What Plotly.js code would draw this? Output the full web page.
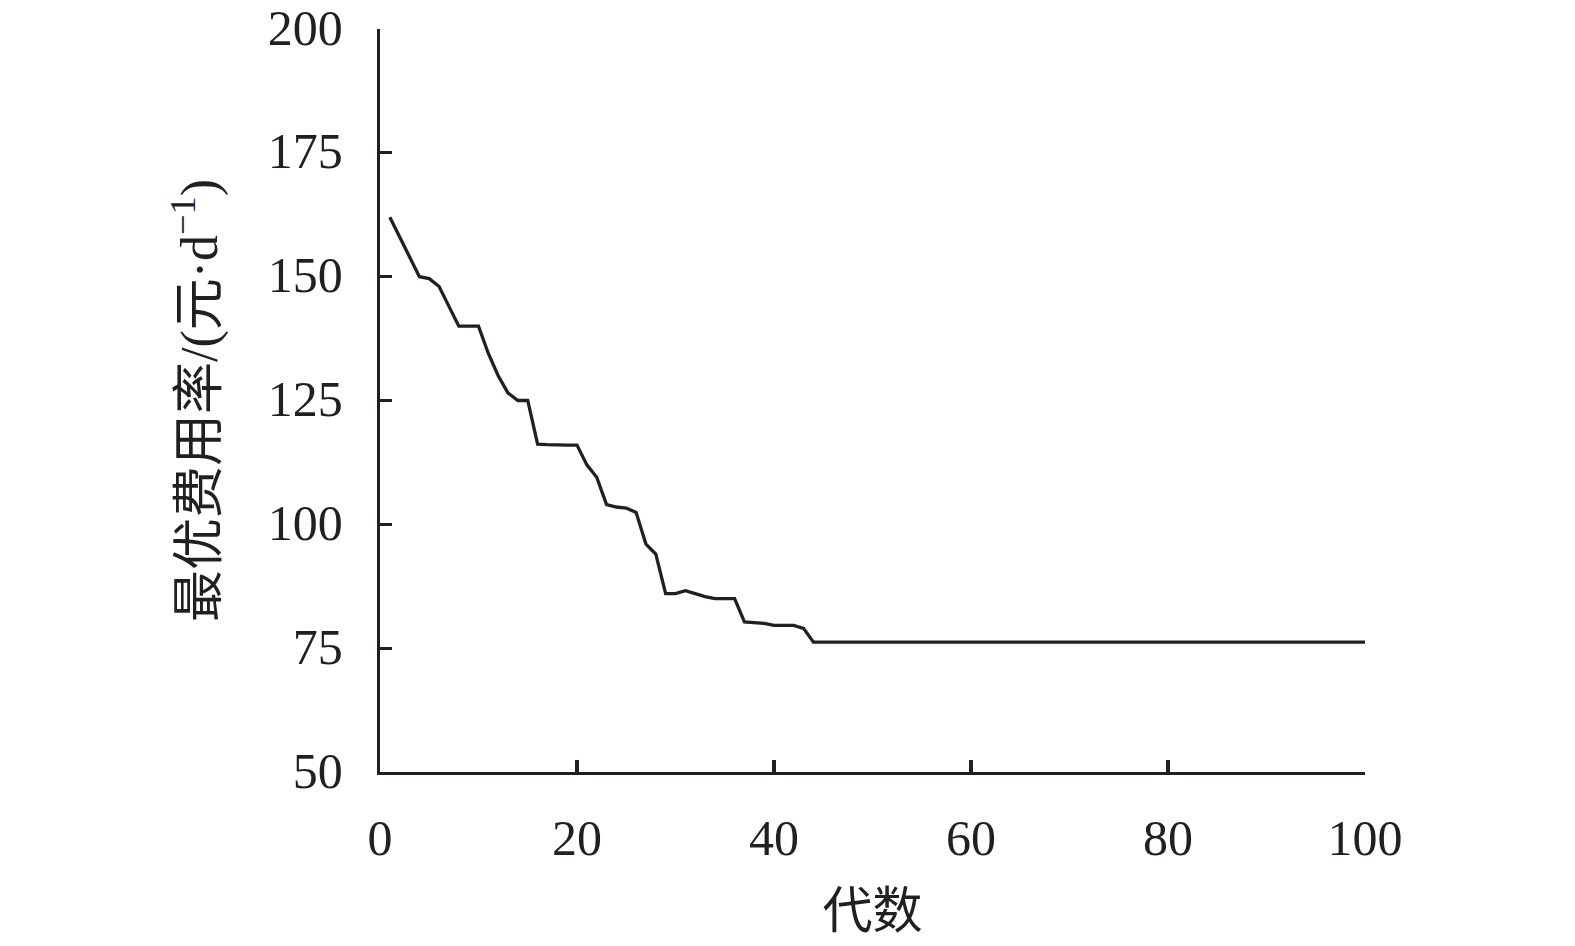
<!DOCTYPE html>
<html>
<head>
<meta charset="utf-8">
<script src="https://cdn.plot.ly/plotly-3.0.1.min.js"></script>
<style>html,body{margin:0;padding:0;background:#fff;}#chart{width:1575px;height:946px;}</style>
</head>
<body>
<div id="chart"></div>
<script>
// generation numbers
const generations = [];
for (let g = 1; g <= 100; g++) generations.push(g);

// best cost rate per generation
const bestCostHead = [162, 158, 154, 150, 149.6, 148, 144, 140, 140, 140,
  134.5, 130, 126.5, 125, 125, 116.2, 116.1, 116, 116, 116,
  112, 109.5, 104, 103.5, 103.3, 102.4, 96, 94, 86, 86,
  86.6, 86, 85.4, 85, 85, 85, 80.3, 80.1, 80, 79.6,
  79.6, 79.6, 79, 76.2];
const bestCostTail = new Array(56).fill(76.2);
const bestCost = bestCostHead.concat(bestCostTail);

const xTicks = [0, 20, 40, 60, 80, 100];
const yTicks = [50, 75, 100, 125, 150, 175, 200];
const xTitle = '代数';
const yTitle = '最优费用率/(元·d<sup>−1</sup>)';

const ink = '#231f20';
const fontFam = '"Liberation Serif", "Times New Roman", "Noto Sans CJK SC", serif';

Plotly.newPlot('chart', [{
  x: generations,
  y: bestCost,
  type: 'scatter',
  mode: 'lines',
  line: {color: ink, width: 3.3},
  hoverinfo: 'skip'
}], {
  width: 1575, height: 946,
  margin: {l: 380, r: 210, t: 29, b: 174},
  paper_bgcolor: '#fff', plot_bgcolor: '#fff',
  showlegend: false,
  font: {family: fontFam, color: ink, size: 50},
  xaxis: {
    range: [0, 100], tickvals: xTicks, ticktext: xTicks.map(String),
    showline: true, linecolor: ink, linewidth: 3.3,
    ticks: 'inside', ticklen: 12, tickwidth: 3.3, tickcolor: ink,
    showgrid: false, zeroline: false,
    tickfont: {family: fontFam, size: 50, color: ink},
    ticklabelstandoff: 20,
    title: {text: xTitle, font: {family: fontFam, size: 50, color: ink}, standoff: 28}
  },
  yaxis: {
    range: [50, 200], tickvals: yTicks, ticktext: yTicks.map(String),
    showline: true, linecolor: ink, linewidth: 3.3,
    ticks: 'inside', ticklen: 12, tickwidth: 3.3, tickcolor: ink,
    showgrid: false, zeroline: false,
    tickfont: {family: fontFam, size: 50, color: ink},
    ticklabelstandoff: 24,
    ticklabelshift: -2,
    ticklabeloverflow: 'allow',
    title: {text: yTitle, font: {family: fontFam, size: 52, color: ink}, standoff: 34}
  }
}, {staticPlot: true});
</script>
</body>
</html>
